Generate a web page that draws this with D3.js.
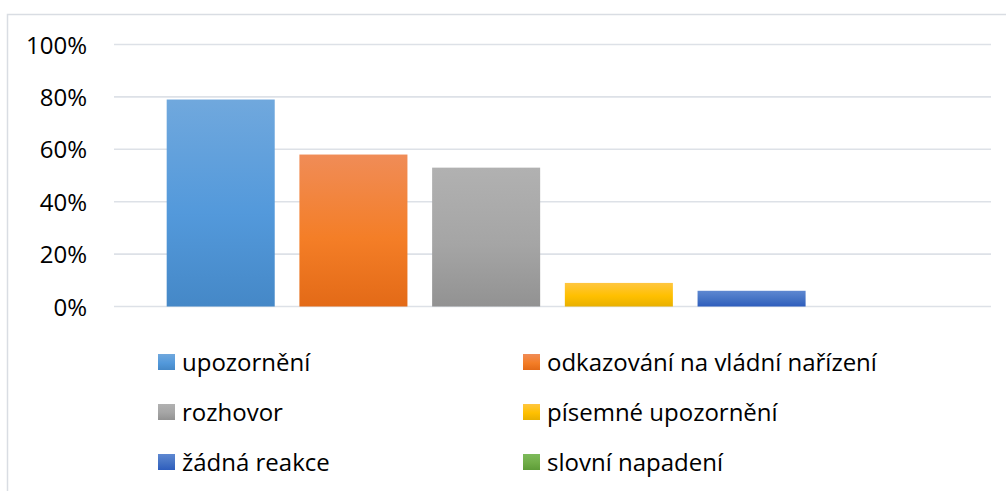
<!DOCTYPE html>
<html>
<head>
<meta charset="utf-8">
<script src="https://cdn.jsdelivr.net/npm/d3@7"></script>
<style>
  html, body { margin: 0; padding: 0; background: #fff; }
  svg { display: block; font-family: "Open Sans", sans-serif; }
</style>
</head>
<body>
<div id="chart"></div>
<script>
const seriesNames = [
    "upozornění",
    "odkazování na vládní nařízení",
    "rozhovor",
    "písemné upozornění",
    "žádná reakce",
    "slovní napadení"
];
const seriesValues = [0.79, 0.58, 0.53, 0.09, 0.06, 0];
const yTicks = [0, 0.2, 0.4, 0.6, 0.8, 1];
// top, middle, bottom stops of the Excel-like gradient fill
const seriesColors = [
    ["#70a8dd", "#5399db", "#4588c7"],
    ["#f08c57", "#f47e27", "#e36a17"],
    ["#b1b1b1", "#a5a5a5", "#929292"],
    ["#ffc640", "#ffc000", "#e8b000"],
    ["#5e88d1", "#4472c4", "#2e5dbd"],
    ["#7dba5b", "#70ad47", "#5e9c38"]
];

const W = 1006, H = 491;
const plot = { left: 114, right: 991, top: 44.5, bottom: 306.5 };
const fontSize = 24;

const svg = d3.select("#chart").append("svg")
    .attr("width", W)
    .attr("height", H);

const defs = svg.append("defs");
seriesColors.forEach((c, i) => {
    const lg = defs.append("linearGradient")
        .attr("id", "grad" + i)
        .attr("x1", 0).attr("y1", 0).attr("x2", 0).attr("y2", 1);
    lg.append("stop").attr("offset", "0%").attr("stop-color", c[0]);
    lg.append("stop").attr("offset", "55%").attr("stop-color", c[1]);
    lg.append("stop").attr("offset", "100%").attr("stop-color", c[2]);
});

// chart area border
svg.append("rect")
    .attr("x", 7.5).attr("y", 14.5)
    .attr("width", 1010).attr("height", 500)
    .attr("fill", "#fff")
    .attr("stroke", "#d9dde3")
    .attr("stroke-width", 1.5);

const y = d3.scaleLinear().domain([0, 1]).range([plot.bottom, plot.top]);
const x = d3.scaleBand()
    .domain(seriesNames)
    .range([plot.left, plot.right])
    .paddingInner(0.186)
    .paddingOuter(0.397);

// gridlines
svg.append("g")
    .selectAll("line")
    .data(yTicks)
    .join("line")
    .attr("x1", plot.left).attr("x2", plot.right)
    .attr("y1", d => y(d)).attr("y2", d => y(d))
    .attr("stroke", "#dde1e7")
    .attr("stroke-width", 1.6);

// y axis labels
const yAxis = svg.append("g")
    .attr("transform", `translate(${plot.left - 27}, 0)`)
    .call(d3.axisLeft(y).tickValues(yTicks).tickFormat(d3.format(".0%")).tickSize(0).tickPadding(0));
yAxis.select(".domain").remove();
yAxis.selectAll("text")
    .attr("font-family", "'Open Sans', sans-serif")
    .attr("font-size", fontSize)
    .attr("fill", "#000")
    .attr("dy", "0.36em");

// bars
svg.append("g")
    .selectAll("rect")
    .data(seriesNames)
    .join("rect")
    .attr("x", d => x(d))
    .attr("width", x.bandwidth())
    .attr("y", (d, i) => y(seriesValues[i]))
    .attr("height", (d, i) => y(0) - y(seriesValues[i]))
    .attr("fill", (d, i) => `url(#grad${i})`);

// legend
const legendCols = [158, 523];
const legendRows = [362, 412, 462];
const legend = svg.append("g")
    .selectAll("g")
    .data(seriesNames)
    .join("g")
    .attr("transform", (d, i) => `translate(${legendCols[i % 2]}, ${legendRows[Math.floor(i / 2)]})`);

legend.append("rect")
    .attr("x", 0).attr("y", -8)
    .attr("width", 17).attr("height", 16)
    .attr("fill", (d, i) => `url(#grad${i})`);

legend.append("text")
    .attr("x", 24)
    .attr("dy", "0.36em")
    .attr("font-size", fontSize)
    .attr("fill", "#000")
    .text(d => d);
</script>
</body>
</html>
